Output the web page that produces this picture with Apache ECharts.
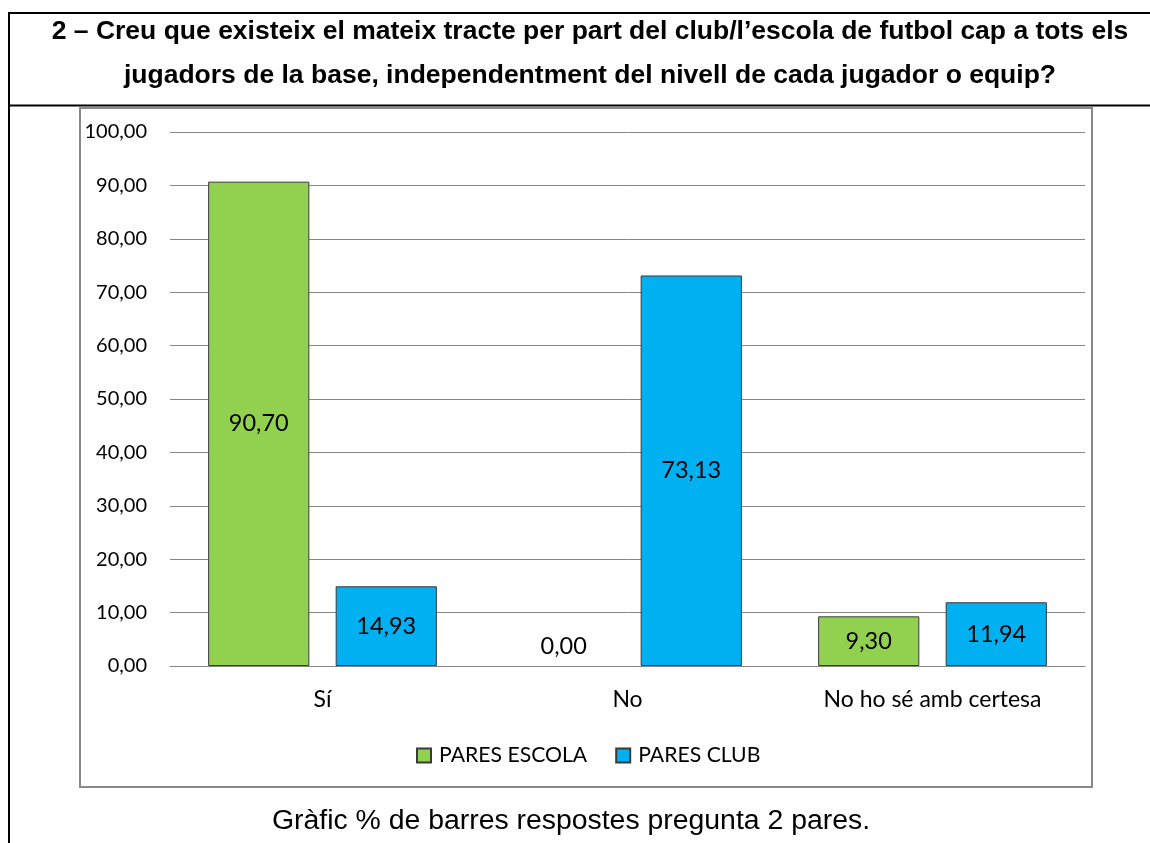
<!DOCTYPE html>
<html>
<head>
<meta charset="utf-8">
<script src="https://cdn.jsdelivr.net/npm/echarts@6/dist/echarts.min.js"></script>
<style>
  html, body { margin: 0; padding: 0; background: #fff; }
  #chart { width: 1150px; height: 843px; }
</style>
</head>
<body>
<div id="chart"></div>
<script>
// Survey answers, question 2 (parents)
const categories = ['Sí', 'No', 'No ho sé amb certesa'];
const seriesNames = ['PARES ESCOLA', 'PARES CLUB'];
const paresEscola = [90.70, 0.00, 9.30];
const paresClub = [14.93, 73.13, 11.94];
const yTicks = { min: 0, max: 100, interval: 10 };

const titleText = '2 – Creu que existeix el mateix tracte per part del club/l’escola de futbol cap a tots els\njugadors de la base, independentment del nivell de cada jugador o equip?';
const captionText = 'Gràfic % de barres respostes pregunta 2 pares.';

const fmt = v => v.toFixed(2).replace('.', ',');
const labelFont = 'Lato, "Open Sans", sans-serif';

// zero-height bars: no outline, label lifted above the axis
function toItems(values) {
  return values.map(v => v === 0
    ? { value: v, itemStyle: { borderWidth: 0 }, label: { position: 'top', distance: 8 } }
    : { value: v });
}

const barStyle = color => ({ color: color, borderColor: '#3a3a3a', borderWidth: 1 });
const barLabel = {
  show: true,
  position: 'inside',
  color: '#000',
  fontFamily: labelFont,
  fontSize: 23.5,
  formatter: p => fmt(p.value)
};

const chart = echarts.init(document.getElementById('chart'), null, { renderer: 'canvas' });
chart.setOption({
  backgroundColor: '#fff',
  animation: false,
  title: [
    {
      text: titleText,
      left: 585,
      top: 5,
      textAlign: 'center',
      textStyle: {
        fontFamily: '"Liberation Sans", Arial, sans-serif',
        fontWeight: 'bold',
        fontSize: 26.5,
        lineHeight: 44,
        color: '#000'
      }
    },
    {
      text: captionText,
      left: 566,
      top: 802,
      textAlign: 'center',
      textStyle: {
        fontFamily: '"Liberation Sans", Arial, sans-serif',
        fontWeight: 'normal',
        fontSize: 28.4,
        color: '#000'
      }
    }
  ],
  graphic: [
    // table frame around the question and chart
    { type: 'line', shape: { x1: 9, y1: 12, x2: 9, y2: 843 }, style: { stroke: '#000', lineWidth: 2 } },
    { type: 'line', shape: { x1: 9, y1: 13, x2: 1150, y2: 13 }, style: { stroke: '#000', lineWidth: 2 } },
    { type: 'line', shape: { x1: 9, y1: 105.5, x2: 1150, y2: 105.5 }, style: { stroke: '#000', lineWidth: 2 } },
    // chart area border
    { type: 'rect', shape: { x: 80, y: 108, width: 1012, height: 679 }, style: { fill: 'none', stroke: '#8a8a8a', lineWidth: 2 }, z: -1 }
  ],
  legend: {
    data: seriesNames,
    left: 411,
    top: 740,
    itemWidth: 14,
    itemHeight: 14,
    itemGap: 28,
    icon: 'rect',
    textStyle: { fontFamily: labelFont, fontSize: 21.2, color: '#000', padding: [0, 0, 0, 3] }
  },
  grid: { left: 170, right: 65, top: 132, bottom: 177, containLabel: false },
  xAxis: {
    type: 'category',
    data: categories,
    axisLine: { show: true, lineStyle: { color: '#868686', width: 1 } },
    axisTick: { show: false },
    axisLabel: { color: '#000', fontFamily: labelFont, fontSize: 23, margin: 22 }
  },
  yAxis: {
    type: 'value',
    min: yTicks.min,
    max: yTicks.max,
    interval: yTicks.interval,
    axisLine: { show: false },
    axisTick: { show: false },
    splitLine: { lineStyle: { color: '#868686', width: 1 } },
    axisLabel: { color: '#000', fontFamily: labelFont, fontSize: 20, margin: 23, formatter: v => fmt(v) }
  },
  series: [
    {
      name: seriesNames[0],
      type: 'bar',
      data: toItems(paresEscola),
      itemStyle: barStyle('#92D050'),
      barGap: '26%',
      barCategoryGap: '25%',
      label: barLabel
    },
    {
      name: seriesNames[1],
      type: 'bar',
      data: toItems(paresClub),
      itemStyle: barStyle('#00B0F0'),
      barGap: '26%',
      barCategoryGap: '25%',
      label: barLabel
    }
  ]
});
</script>
</body>
</html>
